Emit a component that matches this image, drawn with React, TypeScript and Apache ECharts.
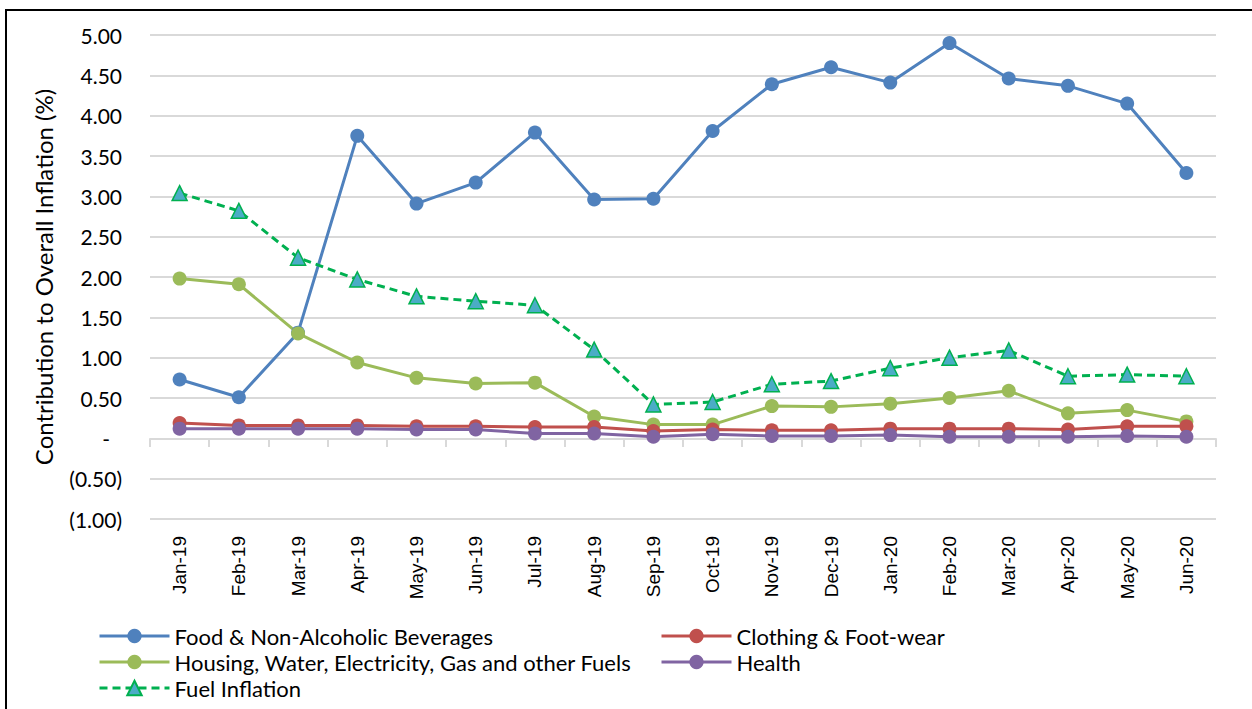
import React, { useEffect, useRef } from "react";
import * as echarts from "echarts";

const categories = [
  "Jan-19", "Feb-19", "Mar-19", "Apr-19", "May-19", "Jun-19", "Jul-19", "Aug-19", "Sep-19",
  "Oct-19", "Nov-19", "Dec-19", "Jan-20", "Feb-20", "Mar-20", "Apr-20", "May-20", "Jun-20",
];

const food = [0.73, 0.51, 1.31, 3.75, 2.91, 3.17, 3.79, 2.96, 2.97, 3.81, 4.39, 4.60, 4.41, 4.90, 4.46, 4.37, 4.15, 3.29];
const clothing = [0.19, 0.16, 0.16, 0.16, 0.15, 0.15, 0.14, 0.14, 0.09, 0.11, 0.10, 0.10, 0.12, 0.12, 0.12, 0.11, 0.15, 0.15];
const housing = [1.98, 1.91, 1.30, 0.94, 0.75, 0.68, 0.69, 0.27, 0.17, 0.17, 0.40, 0.39, 0.43, 0.50, 0.59, 0.31, 0.35, 0.21];
const health = [0.12, 0.12, 0.12, 0.12, 0.11, 0.11, 0.06, 0.06, 0.02, 0.05, 0.03, 0.03, 0.04, 0.02, 0.02, 0.02, 0.03, 0.02];
const fuel = [3.04, 2.82, 2.24, 1.97, 1.76, 1.70, 1.65, 1.10, 0.42, 0.45, 0.67, 0.71, 0.87, 1.00, 1.09, 0.77, 0.79, 0.77];

const seriesNames = [
  "Food & Non-Alcoholic Beverages",
  "Clothing & Foot-wear",
  "Housing, Water, Electricity, Gas and other Fuels",
  "Health",
  "Fuel Inflation",
];

const yAxisName = "Contribution to Overall Inflation (%)";

export default function App() {
  const ref = useRef<HTMLDivElement>(null);
  useEffect(() => {
    if (!ref.current) return;
    const chart = echarts.init(ref.current, null, { renderer: "svg" });
    const lineSeries = (name: string, data: number[], color: string) => ({
      name,
      type: "line",
      data,
      symbol: "circle",
      symbolSize: 14,
      lineStyle: { color, width: 3 },
      itemStyle: { color },
    });
    const legendText = { fontFamily: "Lato", fontSize: 22, lineHeight: 22, color: "#000" };
    const legendItem = (name: string, left: number, top: number) => ({
      data: [name],
      orient: "horizontal",
      left,
      top,
      padding: 0,
      itemWidth: 70,
      itemHeight: 18,
      itemGap: 6,
      lineStyle: { width: 3 },
      textStyle: legendText,
    });
    chart.setOption({
      animation: false,
      backgroundColor: "#fff",
      grid: [
        { left: 150, right: 36, top: 35, bottom: 190 },
        { left: 150, right: 36, top: 439, height: 80 },
      ],
      graphic: [
        {
          type: "rect",
          shape: { x: 6, y: 10, width: 1400, height: 900 },
          style: { fill: "none", stroke: "#000", lineWidth: 2 },
          silent: true,
        },
      ],
      legend: [
        legendItem(seriesNames[0], 98, 625),
        legendItem(seriesNames[1], 660, 625),
        legendItem(seriesNames[2], 98, 651),
        legendItem(seriesNames[3], 660, 651),
        legendItem(seriesNames[4], 98, 677),
      ],
      xAxis: [
        {
          type: "category",
          data: categories,
          gridIndex: 0,
          boundaryGap: true,
          position: "bottom",
          axisLine: { show: false, onZero: false },
          axisTick: { show: false },
          axisLabel: {
            rotate: 90,
            margin: 17,
            fontFamily: "Liberation Sans",
            fontSize: 19,
            color: "#000",
          },
        },
        {
          type: "category",
          data: categories,
          gridIndex: 1,
          boundaryGap: true,
          position: "top",
          axisLine: { show: true, onZero: false, lineStyle: { color: "#D9D9D9", width: 2 } },
          axisTick: { show: true, inside: true, length: 8, lineStyle: { color: "#D9D9D9", width: 2 } },
          axisLabel: { show: false },
          splitLine: { show: false },
        },
      ],
      yAxis: [
        {
          type: "value",
          gridIndex: 0,
          min: -1,
          max: 5,
          interval: 0.5,
          name: yAxisName,
          nameLocation: "middle",
          nameGap: 95,
          nameTextStyle: { fontFamily: "Lato", fontSize: 24, color: "#000" },
          axisLine: { show: false },
          axisTick: { show: false },
          splitLine: { lineStyle: { color: "#D9D9D9", width: 2 } },
          axisLabel: {
            margin: 28,
            fontFamily: "Lato",
            fontSize: 21,
            color: "#000",
            formatter: (v: number) => {
              if (Math.abs(v) < 1e-9) return "{d|-}";
              if (v < 0) return "(" + Math.abs(v).toFixed(2) + ")";
              return v.toFixed(2);
            },
            rich: { d: { fontFamily: "Lato", fontSize: 21, color: "#000", padding: [0, 12, 0, 0] } },
          },
        },
        {
          type: "value",
          gridIndex: 1,
          min: -1,
          max: 0,
          show: false,
          splitLine: { show: false },
        },
      ],
      series: [
        lineSeries(seriesNames[0], food, "#4F81BD"),
        lineSeries(seriesNames[2], housing, "#9BBB59"),
        lineSeries(seriesNames[1], clothing, "#C0504D"),
        lineSeries(seriesNames[3], health, "#8064A2"),
        {
          name: seriesNames[4],
          type: "line",
          data: fuel,
          symbol: "triangle",
          symbolSize: 15,
          lineStyle: { color: "#00B050", width: 3, type: [8, 5] },
          itemStyle: { color: "#4BACC6", borderColor: "#00B050", borderWidth: 1.5 },
        },
      ],
    });
    return () => chart.dispose();
  }, []);
  return (
    <div
      ref={ref}
      style={{ position: "fixed", left: 0, top: 0, width: 1252, height: 709 }}
    />
  );
}
